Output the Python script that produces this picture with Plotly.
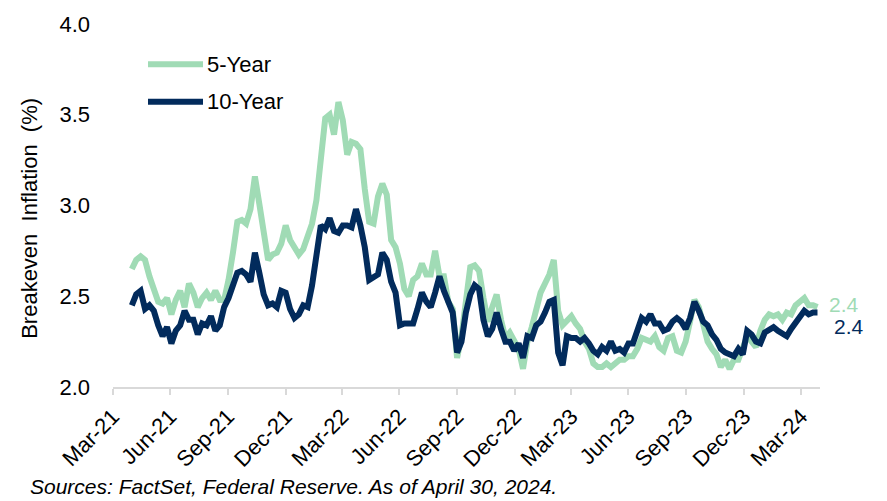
import pandas as pd
import plotly.graph_objects as go

# Weekly observations, 2021-04-30 .. 2024-04-26
dates = pd.date_range("2021-04-30", periods=157, freq="7D")

five_year = [
    2.65, 2.70, 2.72, 2.70, 2.61, 2.55, 2.47, 2.46, 2.49, 2.40,
    2.48, 2.53, 2.44, 2.57, 2.52, 2.44, 2.49, 2.52, 2.48, 2.53,
    2.48, 2.48, 2.59, 2.74, 2.91, 2.92, 2.90, 2.98, 3.16, 3.01,
    2.86, 2.70, 2.73, 2.74, 2.79, 2.89, 2.81, 2.77, 2.73, 2.76,
    2.84, 2.90, 3.03, 3.23, 3.48, 3.50, 3.39, 3.57, 3.47, 3.28,
    3.35, 3.34, 3.31, 3.09, 2.91, 2.90, 3.05, 3.12, 3.06, 2.81,
    2.77, 2.68, 2.54, 2.50, 2.59, 2.61, 2.68, 2.62, 2.62, 2.75,
    2.61, 2.61, 2.47, 2.43, 2.16, 2.28, 2.48, 2.66, 2.67, 2.64,
    2.49, 2.36, 2.44, 2.51, 2.37, 2.27, 2.30, 2.25, 2.21, 2.10,
    2.25, 2.33, 2.42, 2.52, 2.57, 2.62, 2.70, 2.42, 2.34, 2.36,
    2.39, 2.35, 2.32, 2.25, 2.21, 2.13, 2.11, 2.11, 2.13, 2.11,
    2.13, 2.15, 2.15, 2.17, 2.17, 2.21, 2.27, 2.26, 2.25, 2.28,
    2.22, 2.20, 2.27, 2.28, 2.20, 2.19, 2.25, 2.36, 2.48, 2.44,
    2.34, 2.25, 2.21, 2.18, 2.11, 2.15, 2.10, 2.15, 2.15, 2.22,
    2.28, 2.25, 2.22, 2.31, 2.37, 2.40, 2.39, 2.40, 2.37, 2.41,
    2.40, 2.45, 2.47, 2.49, 2.45, 2.45, 2.44,
]

ten_year = [
    2.45, 2.51, 2.53, 2.43, 2.45, 2.42, 2.34, 2.28, 2.33, 2.24,
    2.31, 2.34, 2.42, 2.37, 2.37, 2.29, 2.35, 2.34, 2.39, 2.31,
    2.34, 2.44, 2.49, 2.57, 2.63, 2.64, 2.62, 2.58, 2.74, 2.63,
    2.51, 2.45, 2.46, 2.44, 2.53, 2.52, 2.43, 2.38, 2.40, 2.45,
    2.44, 2.56, 2.74, 2.89, 2.87, 2.93, 2.86, 2.85, 2.89, 2.89,
    2.88, 2.98, 2.89, 2.77, 2.59, 2.61, 2.62, 2.74, 2.70, 2.58,
    2.52, 2.34, 2.35, 2.35, 2.35, 2.43, 2.52, 2.47, 2.44, 2.52,
    2.61, 2.53, 2.46, 2.41, 2.19, 2.25, 2.41, 2.51, 2.56, 2.54,
    2.37, 2.28, 2.32, 2.41, 2.32, 2.25, 2.25, 2.20, 2.24, 2.16,
    2.28, 2.27, 2.34, 2.36, 2.41, 2.47, 2.48, 2.19, 2.12, 2.28,
    2.27, 2.27, 2.25, 2.27, 2.24, 2.20, 2.18, 2.22, 2.20, 2.25,
    2.20, 2.21, 2.19, 2.24, 2.24, 2.31, 2.38, 2.36, 2.40, 2.35,
    2.35, 2.31, 2.32, 2.36, 2.38, 2.36, 2.32, 2.38, 2.47, 2.42,
    2.36, 2.34, 2.29, 2.26, 2.21, 2.19, 2.18, 2.17, 2.21, 2.18,
    2.31, 2.29, 2.25, 2.24, 2.30, 2.32, 2.33, 2.31, 2.29, 2.28,
    2.32, 2.35, 2.39, 2.42, 2.40, 2.41, 2.41,
]

tick_dates = ["2021-03-31", "2021-06-30", "2021-09-30", "2021-12-31",
              "2022-03-31", "2022-06-30", "2022-09-30", "2022-12-31",
              "2023-03-31", "2023-06-30", "2023-09-30", "2023-12-31",
              "2024-03-31"]
tick_labels = ["Mar-21", "Jun-21", "Sep-21", "Dec-21", "Mar-22", "Jun-22",
               "Sep-22", "Dec-22", "Mar-23", "Jun-23", "Sep-23", "Dec-23",
               "Mar-24"]

series_names = ["5-Year", "10-Year"]
GREEN = "#A0DBB5"
NAVY = "#022B5C"
FONT = "Liberation Sans, Arial, sans-serif"
FS = 22

fig = go.Figure()
fig.add_trace(go.Scatter(x=dates, y=five_year, mode="lines", name=series_names[0],
                         line=dict(color=GREEN, width=6), showlegend=False))
fig.add_trace(go.Scatter(x=dates, y=ten_year, mode="lines", name=series_names[1],
                         line=dict(color=NAVY, width=6), showlegend=False))

# end-value labels
fig.add_annotation(x=dates[-1], y=five_year[-1], text=f"{five_year[-1]:.1f}",
                   showarrow=False, xanchor="left", yanchor="middle", xshift=11, yshift=3,
                   borderpad=0, font=dict(family=FONT, size=21, color=GREEN))
fig.add_annotation(x=dates[-1], y=ten_year[-1], text=f"{ten_year[-1]:.1f}",
                   showarrow=False, xanchor="left", yanchor="middle", xshift=16, yshift=-14,
                   borderpad=0, font=dict(family=FONT, size=21, color=NAVY))

# manual legend
for name, color, ypos in [(series_names[0], GREEN, 0.889), (series_names[1], NAVY, 0.786)]:
    fig.add_shape(type="line", xref="paper", yref="paper", x0=0.0495, x1=0.1273,
                  y0=ypos, y1=ypos, line=dict(color=color, width=6))
    fig.add_annotation(xref="paper", yref="paper", x=0.1301, y=ypos, text=name,
                       showarrow=False, xanchor="left", yanchor="middle",
                       font=dict(family=FONT, size=FS, color="#000000"))

# y-axis title
fig.add_annotation(xref="paper", yref="paper", x=-0.1174, y=0.466,
                   text="Breakeven\u00a0\u00a0Inflation\u00a0\u00a0(%)", textangle=-90,
                   showarrow=False, xanchor="center", yanchor="middle",
                   font=dict(family=FONT, size=FS, color="#000000"))

# footnote
fig.add_annotation(xref="paper", yref="paper", x=-0.1202, y=-0.2737,
                   text="<i>Sources: FactSet, Federal Reserve. As of April 30, 2024.</i>",
                   showarrow=False, xanchor="left", yanchor="middle",
                   font=dict(family=FONT, size=21, color="#000000"))

fig.update_layout(
    width=887, height=501,
    margin=dict(l=113, r=67, t=18, b=114),
    paper_bgcolor="white", plot_bgcolor="white",
    font=dict(family=FONT, size=FS, color="#000000"),
    xaxis=dict(range=["2021-03-31", "2024-04-30"], tickvals=tick_dates, ticktext=tick_labels,
               tickangle=-45, showgrid=False, zeroline=False, showline=True,
               linecolor="#D9D9D9", linewidth=2, ticks="outside", ticklen=6,
               tickcolor="#D9D9D9", tickwidth=1.5, tickfont=dict(size=FS)),
    yaxis=dict(range=[2.0, 4.0], tickvals=[2.0, 2.5, 3.0, 3.5, 4.0],
               ticktext=["2.0", "2.5", "3.0", "3.5", "4.0"], showgrid=False,
               zeroline=False, showline=False, ticks="", ticklabelstandoff=22,
               tickfont=dict(size=FS)),
)

fig.write_html("out.html", config={"displayModeBar": False},
               post_script="document.body.style.margin='0';document.body.style.overflow='hidden';")
